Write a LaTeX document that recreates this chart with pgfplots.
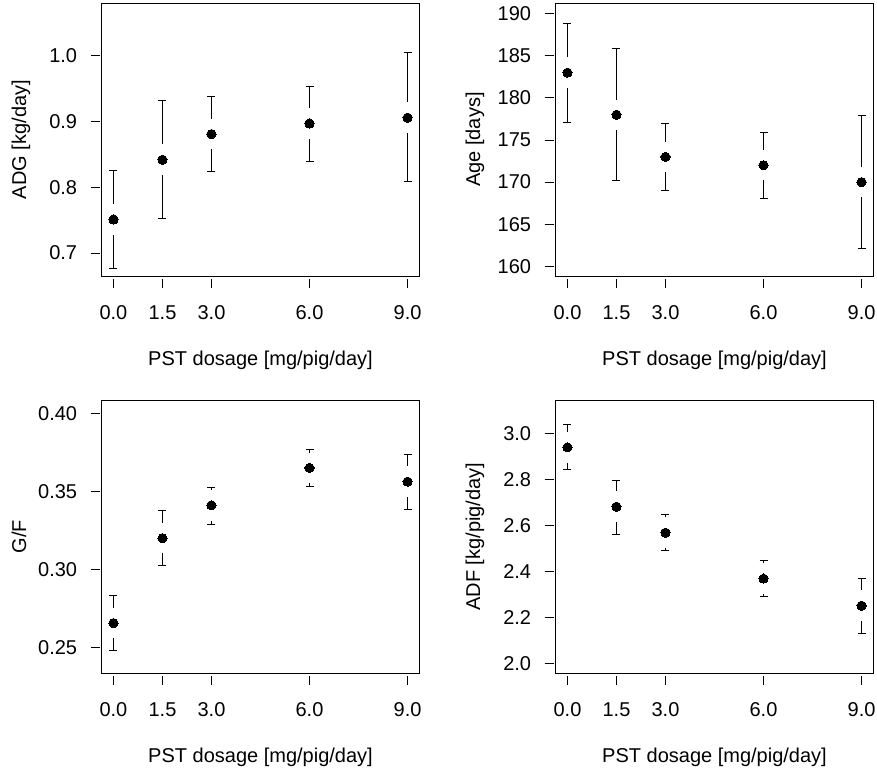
\documentclass[border=0pt]{standalone}
\usepackage{pgfplots}
\pgfplotsset{compat=1.18}
\usepackage{pgfplotstable}
\usepackage{fontspec}
\setmainfont{Liberation Sans}

\pgfplotstableread{
x y ep em
0 0.751 0.074 0.074
1.5 0.842 0.090 0.090
3 0.881 0.057 0.057
6 0.897 0.057 0.057
9 0.906 0.099 0.097
}\tabA
\pgfplotstableread{
x y ep em
0 183 5.9 5.9
1.5 178 7.85 7.85
3 173 4.0 4.0
6 172 3.9 3.9
9 170 7.9 7.9
}\tabB
\pgfplotstableread{
x y ep em
0 0.2657 0.0179 0.0172
1.5 0.3201 0.0180 0.0175
3 0.3411 0.0118 0.0119
6 0.3651 0.0119 0.0118
9 0.3563 0.0177 0.0178
}\tabC
\pgfplotstableread{
x y ep em
0 2.940 0.100 0.097
1.5 2.682 0.116 0.119
3 2.569 0.081 0.077
6 2.369 0.081 0.077
9 2.251 0.118 0.119
}\tabD

\pgfplotsset{
  myax/.style={
    scale only axis, width=317.6pt, height=272.7pt,
    anchor=south west,
    xmin=-0.36, xmax=9.36,
    axis on top,
    clip marker paths=true,
    axis line style={line width=0.9pt, black},
    tick style={line width=0.8pt, black},
    tick align=outside, major tick length=9pt,
    xtick pos=left, ytick pos=left,
    xtick style={yshift=-3pt},
    ytick style={xshift=-2pt},
    xtick={0,1.5,3,6,9},
    xticklabels={0.0,1.5,3.0,6.0,9.0},
    ticklabel style={font=\fontsize{20}{24}\selectfont, inner sep=0pt},
    xticklabel style={anchor=base, yshift=-34.3pt},
    yticklabel style={anchor=east, xshift=-15.4pt},
    label style={font=\fontsize{20}{24}\selectfont, inner sep=0pt},
    xlabel={PST dosage [mg/pig/day]},
    xlabel style={at={(axis description cs:0.5,-0.33)}, anchor=base},
    ylabel style={at={(axis description cs:-0.2383,0.5)}, anchor=base},
  },
  ebar/.style={only marks, mark=none, black,
    error bars/.cd, y dir=both, y explicit,
    error mark=|,
    error bar style={line width=0.8pt, black},
    error mark options={black, line width=0.8pt, mark size=4pt}},
  gapdot/.style={only marks, white, mark=*, mark size=14.7pt, mark options={draw=white, fill=white, line width=0pt}},
  dot/.style={only marks, black, mark=*, mark size=4.6pt, mark options={draw=black, fill=black, line width=0pt}},
}

\begin{document}
\begin{tikzpicture}[x=1pt,y=1pt]
\useasboundingbox (0,0) rectangle (877,774);

\begin{axis}[myax, at={(101.7pt,498pt)},
  ymin=0.665, ymax=1.08,
  ytick={0.7,0.8,0.9,1.0}, yticklabels={0.7,0.8,0.9,1.0},
  ylabel={ADG [kg/day]}]
\addplot[ebar] table[x=x, y=y, y error plus=ep, y error minus=em] {\tabA};
\addplot[gapdot] table[x=x, y=y] {\tabA};
\addplot[dot] table[x=x, y=y] {\tabA};
\end{axis}

\begin{axis}[myax, at={(555.7pt,498pt)},
  ymin=158.85, ymax=191.23,
  ytick={160,165,170,175,180,185,190}, yticklabels={160,165,170,175,180,185,190},
  ylabel={Age [days]}]
\addplot[ebar] table[x=x, y=y, y error plus=ep, y error minus=em] {\tabB};
\addplot[gapdot] table[x=x, y=y] {\tabB};
\addplot[dot] table[x=x, y=y] {\tabB};
\end{axis}

\begin{axis}[myax, at={(101.7pt,101pt)},
  ymin=0.2337, ymax=0.4084,
  ytick={0.25,0.30,0.35,0.40}, yticklabels={0.25,0.30,0.35,0.40},
  ylabel={G/F}]
\addplot[ebar] table[x=x, y=y, y error plus=ep, y error minus=em] {\tabC};
\addplot[gapdot] table[x=x, y=y] {\tabC};
\addplot[dot] table[x=x, y=y] {\tabC};
\end{axis}

\begin{axis}[myax, at={(555.7pt,101pt)},
  ymin=1.958, ymax=3.145,
  ytick={2.0,2.2,2.4,2.6,2.8,3.0}, yticklabels={2.0,2.2,2.4,2.6,2.8,3.0},
  ylabel={ADF [kg/pig/day]}]
\addplot[ebar] table[x=x, y=y, y error plus=ep, y error minus=em] {\tabD};
\addplot[gapdot] table[x=x, y=y] {\tabD};
\addplot[dot] table[x=x, y=y] {\tabD};
\end{axis}
\end{tikzpicture}
\end{document}
